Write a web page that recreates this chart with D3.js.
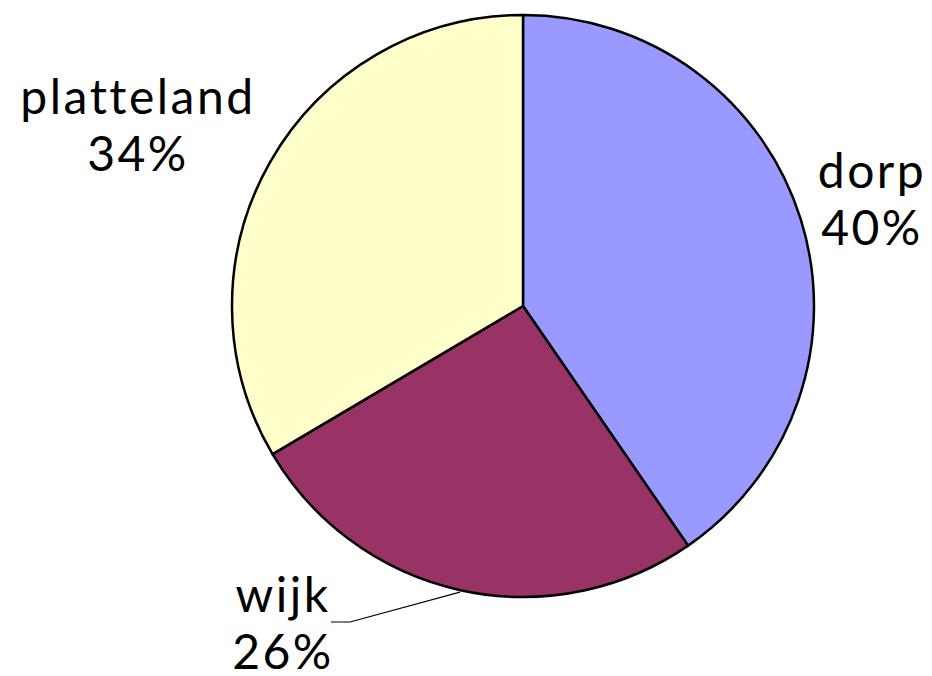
<!DOCTYPE html>
<html>
<head>
<meta charset="utf-8">
<script src="https://cdn.jsdelivr.net/npm/d3@7"></script>
<style>
  body { margin: 0; background: #fff; }
  svg text {
    font-family: "Lato", "DejaVu Sans", sans-serif;
    font-size: 48px;
    font-weight: 400;
    letter-spacing: 2.5px;
    font-variant-ligatures: none;
    fill: #000;
  }
</style>
</head>
<body>
<svg width="932" height="676"></svg>
<script>
const categories = ["dorp", "wijk", "platteland"];
const values = [40.4, 26.1, 33.5];
const colors = ["#9999ff", "#993366", "#ffffcc"];

const cx = 523, cy = 306, radius = 291;

// label centre positions (x = middle, y = baseline of first line)
const labelPos = {
    dorp: [872, 188],
    wijk: [283, 612],
    platteland: [138, 114],
};

const svg = d3.select("svg");
const g = svg.append("g").attr("transform", `translate(${cx}, ${cy})`);

const data = categories.map((c, i) => ({ name: c, value: values[i], color: colors[i] }));
const total = d3.sum(values);

const pie = d3.pie().sort(null).value((d) => d.value);
const arc = d3.arc().innerRadius(0).outerRadius(radius);
const arcs = pie(data);

g.selectAll("path.slice")
    .data(arcs)
    .join("path")
    .attr("class", "slice")
    .attr("d", arc)
    .attr("fill", (d) => d.data.color)
    .attr("stroke", "#000")
    .attr("stroke-width", 2.5)
    .attr("stroke-linejoin", "round");

// leader line for wijk
const wijk = arcs[1];
const mid = (wijk.startAngle + wijk.endAngle) / 2;
const edge = [cx + Math.sin(mid) * (radius + 2), cy - Math.cos(mid) * (radius + 2)];
svg.append("polyline")
    .attr("points", [[331, 622], [350, 622], edge].map((p) => p.join(",")).join(" "))
    .attr("fill", "none")
    .attr("stroke", "#000")
    .attr("stroke-width", 1.2);

const fmt = (v) => Math.round((v / total) * 100) + "%";

arcs.forEach((d) => {
    const [x, y] = labelPos[d.data.name];
    const t = svg.append("text").attr("text-anchor", "middle");
    t.append("tspan").attr("x", x).attr("y", y).text(d.data.name);
    t.append("tspan").attr("x", x).attr("y", y + 57).text(fmt(d.data.value));
});
</script>
</body>
</html>
